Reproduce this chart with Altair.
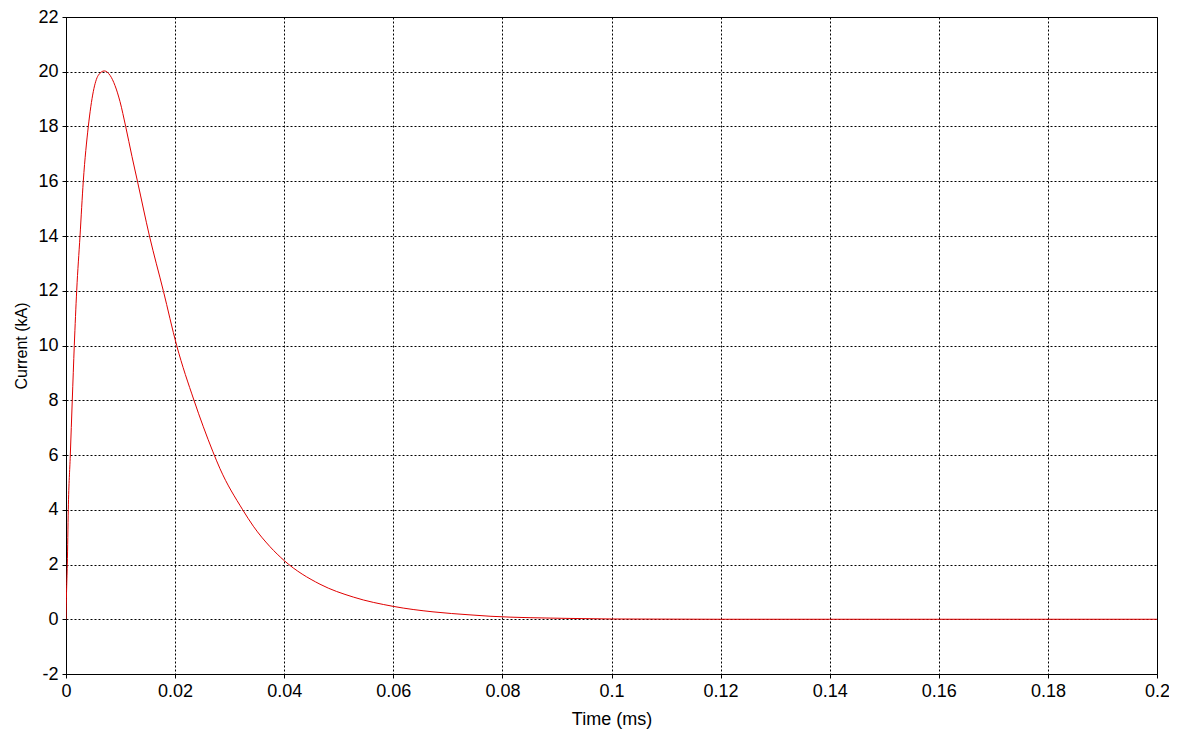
import altair as alt
import pandas as pd

time_ms = [0.0, 0.0001, 0.00024, 0.00042, 0.00079, 0.00115, 0.00152, 0.00196,
           0.00257, 0.00317, 0.00409, 0.0050, 0.00592, 0.00702, 0.00807,
           0.0099, 0.01094, 0.0121, 0.0131, 0.0153, 0.01784, 0.02029,
           0.02346, 0.02689, 0.02823, 0.03239, 0.03434, 0.0374, 0.04002,
           0.04656, 0.05267, 0.06, 0.06728, 0.07406, 0.07773, 0.0924,
           0.1, 0.12, 0.14, 0.16, 0.18, 0.2]
current_ka = [0.0, 1.0, 2.0, 4.0, 6.0, 8.0, 10.0, 12.0,
              14.0, 16.0, 18.0, 19.27, 19.87, 20.03, 19.87,
              18.91, 18.0, 16.9, 16.0, 14.0, 12.0, 10.0,
              8.0, 6.14, 5.5, 4.0, 3.4, 2.65, 2.14,
              1.28, 0.81, 0.47, 0.27, 0.16, 0.11, 0.03,
              0.01, 0.0, 0.0, 0.0, 0.0, 0.0]

x_ticks = [0, 0.02, 0.04, 0.06, 0.08, 0.1, 0.12, 0.14, 0.16, 0.18, 0.2]
y_ticks = [-2, 0, 2, 4, 6, 8, 10, 12, 14, 16, 18, 20, 22]

df = pd.DataFrame({"t": time_ms, "i": current_ka})

FONT = "Liberation Sans"
MINUS_FIX = "replace(datum.label, '\u2212', '-')"

chart = alt.Chart(df).mark_line(color="#e00000", strokeWidth=1, clip=True,
                                interpolate="monotone").encode(
    x=alt.X("t:Q", title="Time (ms)",
            scale=alt.Scale(domain=[0, 0.2], nice=False, zero=False),
            axis=alt.Axis(values=x_ticks, format="~g", labelFlush=False,
                          labelExpr=MINUS_FIX, titleFontSize=18, titlePadding=10)),
    y=alt.Y("i:Q", title="Current (kA)",
            scale=alt.Scale(domain=[-2, 22], nice=False, zero=False),
            axis=alt.Axis(values=y_ticks, format="~g", labelExpr=MINUS_FIX,
                          titleFontSize=16, titlePadding=8)),
).properties(
    width=1091,
    height=657,
    autosize=alt.AutoSizeParams(type="none"),
    padding={"left": 58, "top": 9, "right": 12, "bottom": 58},
).configure_view(
    stroke="black", strokeWidth=1
).configure_axis(
    domainColor="black", domainWidth=1,
    tickColor="black", tickSize=4, tickWidth=1,
    grid=True, gridColor="black", gridDash=[2, 2], gridWidth=1, gridOpacity=1,
    labelFont=FONT, labelFontSize=18, labelColor="black", labelPadding=4,
    titleFont=FONT, titleFontWeight="normal", titleColor="black",
)

chart.save("out.html", embed_options={"renderer": "svg", "actions": False})
